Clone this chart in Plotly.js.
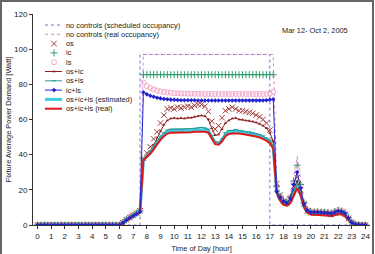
<!DOCTYPE html>
<html>
<head>
<meta charset="utf-8">
<script src="https://cdn.plot.ly/plotly-3.0.1.min.js"></script>
<style>
  html, body { margin: 0; padding: 0; background: #fff; }
  #wrap { position: relative; width: 375px; height: 254px; }
  #chart { width: 375px; height: 254px; }
  #frame { position: absolute; left: 0; top: 0; width: 370px; height: 260px;
           border: 2px solid #666; pointer-events: none; }
</style>
</head>
<body>
<div id="wrap">
  <div id="chart"></div>
  <div id="frame"></div>
</div>
<script>
// 15-minute sampling grid over the day (0:00 .. 24:00)
const hours = Array.from({length: 97}, (_, i) => i * 0.25);

// No controls, scheduled occupancy (step profile)
const schedHours = [0, 7.5, 7.5, 17, 17, 24];
const schedWatts = [0, 0, 97, 97, 0, 0];

// No controls, real occupancy
const realOccWatts = [0,0,0,0,0,0,0,0,0,0,0,0,0,0,0,0,0,0,0,0,0,0,0,0,
  0,1.5,3.2,4.6,5.8,7,8.3,
  97,97,97,97,97,97,97,97,97,97,97,97,97,97,97,97,97,97,97,97,
  97,97,97,97,97,97,97,97,97,97,97,97,97,97,97,97,97,97,97,
  25,18,15,14,17.5,27,39,25,13.5,9.2,8.2,8.1,8.1,8,7.9,7.7,7.3,8.2,9,8.6,7.4,4.7,1.8,0.5,0.1,0,0];

// Occupancy sensor
const osWatts = [0,0,0,0,0,0,0,0,0,0,0,0,0,0,0,0,0,0,0,0,0,0,0,0,
  0,1.3,3,4.3,5.5,6.7,8,
  38,41,44.5,49,53,58,62.5,66,66.5,66,67,66.5,67,67.5,67,68,68.5,68.5,67.5,64.5,
  59,54.5,56.5,61,65,66,67,66,65,65,64.5,64,63.5,62.5,61.5,60,58,54,48,
  23.5,17,13.5,12.5,15,22,27,20,12,8,7,6.8,6.8,6.7,6.6,6.4,6,6.7,7.3,7,6,3.7,1.4,0.3,0,0,0];

// Individual control
const icWatts = [0,0,0,0,0,0,0,0,0,0,0,0,0,0,0,0,0,0,0,0,0,0,0,0,
  0,1.3,3,4.3,5.5,6.7,8,
  85.5,85.5,85.5,85.5,85.5,85.5,85.5,85.5,85.5,85.5,85.5,85.5,85.5,85.5,85.5,85.5,85.5,85.5,85.5,85.5,
  85.5,85.5,85.5,85.5,85.5,85.5,85.5,85.5,85.5,85.5,85.5,85.5,85.5,85.5,85.5,85.5,85.5,85.5,85.5,
  22,16.5,14,13,16,25,34,23,12.5,8.6,7.6,7.5,7.5,7.4,7.3,7.1,6.7,7.6,8.3,7.9,6.8,4.2,1.6,0.4,0.1,0,0];

// Light sensor
const lsWatts = [0,0,0,0,0,0,0,0,0,0,0,0,0,0,0,0,0,0,0,0,0,0,0,0,
  0,1.5,3.2,4.6,5.8,7,8.3,
  81,79,78,77.2,76.5,76,75.7,75.4,75.2,75,74.9,74.8,74.8,74.7,74.7,74.6,74.6,74.6,74.5,74.5,
  74.5,74.5,74.5,74.5,74.5,74.5,74.5,74.5,74.5,74.5,74.5,74.5,74.5,74.5,74.5,74.5,74.5,74.8,75.8,
  22,16,13.8,12.8,15.8,24,32,22.5,12.5,8.6,7.8,7.7,7.7,7.6,7.5,7.3,6.9,7.8,8.6,8.2,7,4.4,1.7,0.5,0.1,0,0];

const osIcWatts = [0,0,0,0,0,0,0,0,0,0,0,0,0,0,0,0,0,0,0,0,0,0,0,0,
  0,1.2,2.8,4,5.2,6.3,7.5,
  37,39.5,42,45.5,49.5,53.5,57,59.5,60.5,60.8,60.5,60.8,60.5,61,61,61.5,62,62.3,61.8,60,
  55,51,51.5,54.5,58,59.5,60.5,60.8,60,59.8,59.5,59.3,58.8,58.3,57.5,56.5,55,52.5,47.5,
  21,15.5,12.8,12.2,14,20,25,19,11.5,7.8,6.8,6.6,6.6,6.5,6.4,6.2,5.8,6.4,7,6.8,5.8,3.5,1.3,0.3,0,0,0];

const osLsWatts = [0,0,0,0,0,0,0,0,0,0,0,0,0,0,0,0,0,0,0,0,0,0,0,0,
  0,1.2,2.8,4,5.1,6.2,7.4,
  37.5,39,41.5,44.5,48,50.5,52.5,54,54.5,54.5,54.6,54.4,54.6,54.8,54.8,55,55.2,55.5,55.2,54.5,
  51,47.5,47,49,52.5,53.8,53.8,54.3,53.8,53.5,53.2,53,52.5,52,51.5,50.7,49.5,48,45,
  19.5,15,12.3,11.8,13.5,19,23.5,18,11,7.6,6.6,6.4,6.4,6.3,6.2,6,5.6,6.2,6.8,6.6,5.6,3.4,1.2,0.3,0,0,0];

const icLsWatts = [0,0,0,0,0,0,0,0,0,0,0,0,0,0,0,0,0,0,0,0,0,0,0,0,
  0,1.2,2.8,4,5.2,6.3,7.5,
  75.5,74.3,73.5,72.9,72.4,72,71.7,71.5,71.3,71.2,71.1,71,71,70.9,70.9,70.9,70.8,70.8,70.8,70.8,
  70.8,70.8,70.8,70.8,70.8,70.8,70.8,70.8,70.8,70.8,70.8,70.8,70.8,70.8,70.8,70.8,70.9,71.2,71.5,
  19,15.5,13.5,12.5,15,23,30,21,12,8.3,7.3,7.2,7.2,7.1,7,6.8,6.4,7.3,8,7.6,6.5,4,1.5,0.4,0.1,0,0];

const allEstWatts = [0,0,0,0,0,0,0,0,0,0,0,0,0,0,0,0,0,0,0,0,0,0,0,0,
  0,1.1,2.7,3.9,5,6.1,7.3,
  37.2,38.8,41,43.7,47,49.5,51.5,53,53.5,53.5,53.6,53.5,53.6,53.8,53.8,54,54.1,54.3,54.1,53.5,
  50.2,46.7,46.3,48.2,51.5,52.8,52.9,53.2,52.9,52.6,52.3,52.1,51.6,51.1,50.6,49.8,48.7,47.2,44.2,
  19,14.5,12,11.5,13,18,22,17.5,10.5,7.3,6.3,6.1,6.1,6,5.9,5.7,5.3,5.9,6.5,6.3,5.3,3.2,1.1,0.2,0,0,0];

const allRealWatts = [0,0,0,0,0,0,0,0,0,0,0,0,0,0,0,0,0,0,0,0,0,0,0,0,
  0,1.1,2.6,3.8,4.9,6,7.2,
  37,38.5,40.5,43,46,48.5,50.5,52,52.5,52.5,52.6,52.5,52.6,52.8,52.8,53,53,53.2,53,52.5,
  49.5,46,45.7,47.5,50.5,51.8,52,52.2,52,51.7,51.4,51.2,50.8,50.3,49.8,49,48,46.5,43.5,
  18.5,14,11.5,11,12.5,17,21,17,10,7,6,5.8,5.8,5.7,5.6,5.4,5,5.6,6.2,6,5,3,1,0.2,0,0,0];

const xTicks = [0,1,2,3,4,5,6,7,8,9,10,11,12,13,14,15,16,17,18,19,20,21,22,23,24];
const yTicks = [0,20,40,60,80,100,120];

// Series definitions: legend order
const series = [
  {name: 'no controls (scheduled occupancy)', x: schedHours, y: schedWatts,
   mode: 'lines', line: {color: '#7272d6', width: 1, dash: 'dot'}},
  {name: 'no controls (real occupancy)', x: hours, y: realOccWatts,
   mode: 'lines', line: {color: '#dd82dd', width: 1, dash: 'dot'}},
  {name: 'os', x: hours, y: osWatts, mode: 'markers',
   marker: {symbol: 'x-thin-open', size: 5.5, color: '#a33a3a', line: {color: '#a33a3a', width: 1}}},
  {name: 'ic', x: hours, y: icWatts, mode: 'markers',
   marker: {symbol: 'cross-thin-open', size: 5, color: '#2f9d6c', line: {color: '#2f9d6c', width: 1}}},
  {name: 'ls', x: hours, y: lsWatts, mode: 'markers',
   marker: {symbol: 'circle-open', size: 5, color: '#f5a8c9', line: {color: '#f5a8c9', width: 1}}},
  {name: 'os+ic', x: hours, y: osIcWatts, mode: 'lines+markers',
   line: {color: '#8e1f1f', width: 1}, marker: {symbol: 'triangle-up', size: 3, color: '#8e1f1f'}},
  {name: 'os+ls', x: hours, y: osLsWatts, mode: 'lines+markers',
   line: {color: '#2a9c9c', width: 1}, marker: {symbol: 'line-ew-open', size: 3, color: '#2a9c9c', line: {color: '#2a9c9c', width: 1}}},
  {name: 'ic+ls', x: hours, y: icLsWatts, mode: 'lines+markers',
   line: {color: '#2424cc', width: 1}, marker: {symbol: 'diamond', size: 3.5, color: '#2424cc'}},
  {name: 'os+ic+ls (estimated)', x: hours, y: allEstWatts, mode: 'lines',
   line: {color: '#3ccbe0', width: 3}},
  {name: 'os+ic+ls (real)', x: hours, y: allRealWatts, mode: 'lines',
   line: {color: '#e01818', width: 2}}
];

// Drawing order (back to front)
const drawOrder = [0, 1, 4, 3, 2, 5, 8, 6, 9, 7];

const traces = drawOrder.map(i => {
  const s = series[i];
  const t = {type: 'scatter', x: s.x, y: s.y, mode: s.mode, name: s.name,
             showlegend: false, hoverinfo: 'skip', cliponaxis: true};
  if (s.line) t.line = s.line;
  if (s.marker) t.marker = s.marker;
  return t;
});

// Compact legend drawn on a pixel-scaled overlay axis pair
const legTop = 25, legStep = 9.3, sampleX0 = 45, sampleX1 = 62, textX = 64;
const annotations = [];
series.forEach((s, k) => {
  const yy = legTop + k * legStep;
  const hasLine = s.mode.indexOf('lines') >= 0;
  const hasMarker = s.mode.indexOf('markers') >= 0;
  if (hasLine) {
    traces.push({type: 'scatter', xaxis: 'x2', yaxis: 'y2', x: [sampleX0, sampleX1], y: [yy, yy],
                 mode: 'lines', line: s.line, showlegend: false, hoverinfo: 'skip'});
  }
  if (hasMarker) {
    traces.push({type: 'scatter', xaxis: 'x2', yaxis: 'y2', x: [(sampleX0 + sampleX1) / 2 + 0.5], y: [yy],
                 mode: 'markers', marker: s.marker, showlegend: false, hoverinfo: 'skip'});
  }
  annotations.push({xref: 'x2', yref: 'y2', x: textX, y: yy, text: s.name, showarrow: false,
                    xanchor: 'left', yanchor: 'middle',
                    font: {family: 'Liberation Sans, Arial, sans-serif', size: 7.4, color: '#222'}});
});
annotations.push({xref: 'x2', yref: 'y2', x: 280, y: 30, text: 'Mar 12- Oct 2, 2005', showarrow: false,
                  xanchor: 'left', yanchor: 'middle',
                  font: {family: 'Liberation Sans, Arial, sans-serif', size: 7.4, color: '#222'}});

const axisFont = {family: 'Liberation Sans, Arial, sans-serif', size: 8, color: '#222'};

const layout = {
  width: 375, height: 254,
  margin: {l: 33, r: 5, t: 14, b: 29, pad: 0},
  paper_bgcolor: '#fff', plot_bgcolor: '#fff',
  showlegend: false,
  xaxis: {range: [-0.33, 24.33], tickvals: xTicks, ticktext: xTicks.map(String),
          showgrid: false, zeroline: false, showline: true, linecolor: '#333', linewidth: 1,
          ticks: 'outside', ticklen: 3, tickcolor: '#333', tickfont: axisFont,
          title: {text: 'Time of Day [hour]', font: {family: 'Liberation Sans, Arial, sans-serif', size: 7.4, color: '#222'}, standoff: 6},
          automargin: false, fixedrange: true},
  yaxis: {range: [0, 120], tickvals: yTicks, ticktext: yTicks.map(String),
          showgrid: false, zeroline: false, showline: true, linecolor: '#333', linewidth: 1,
          ticks: 'outside', ticklen: 3, tickcolor: '#333', tickfont: axisFont,
          title: {text: 'Fixture Average Power Demand [Watt]', font: {family: 'Liberation Sans, Arial, sans-serif', size: 7.4, color: '#222'}, standoff: 1},
          automargin: false, fixedrange: true},
  xaxis2: {overlaying: 'x', range: [33, 370], visible: false, fixedrange: true},
  yaxis2: {overlaying: 'y', range: [225, 14], visible: false, fixedrange: true},
  annotations: annotations
};

Plotly.newPlot('chart', traces, layout, {staticPlot: true, displayModeBar: false});
</script>
</body>
</html>
